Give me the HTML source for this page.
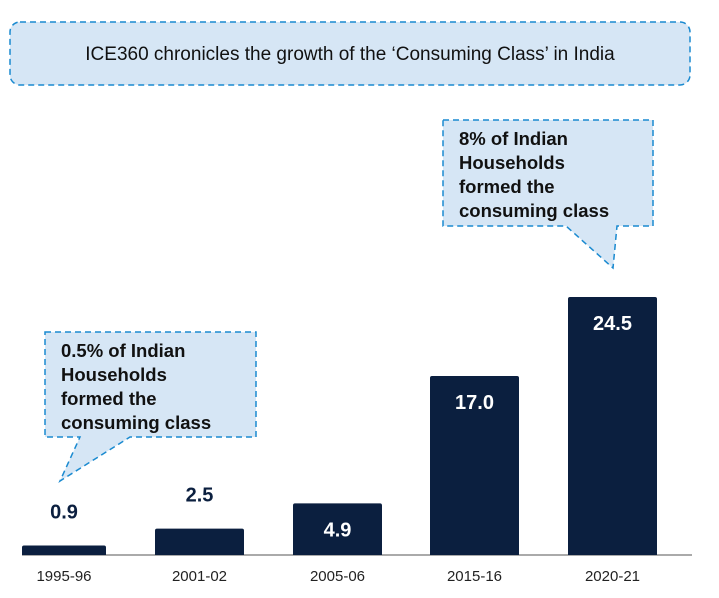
<!DOCTYPE html>
<html><head><meta charset="utf-8"><style>
body{margin:0;background:#fff;font-family:"Liberation Sans",Arial,sans-serif}
#c{position:relative;width:719px;height:598px;overflow:hidden}
</style></head><body>
<div id="c">
<svg width="719" height="598" xmlns="http://www.w3.org/2000/svg" id="svg">
<rect x="10" y="22" width="680" height="63" rx="10" fill="#d6e6f5" stroke="#1a8ad0" stroke-width="1.5" stroke-dasharray="6,4"/>
<text x="350" y="60" text-anchor="middle" font-size="19" fill="#111">ICE360 chronicles the growth of the ‘Consuming Class’ in India</text>
<g>
<path d="M45,332 H256 V437 H130 L60,481 L80,437 H45 Z" fill="#d6e6f5" stroke="#1a8ad0" stroke-width="1.5" stroke-dasharray="6,4"/>
<text x="61" y="357" font-size="18.5" font-weight="bold" fill="#111"><tspan x="61">0.5% of Indian</tspan><tspan x="61" dy="24">Households</tspan><tspan x="61" dy="24">formed the</tspan><tspan x="61" dy="24">consuming class</tspan></text>
</g>
<g>
<path d="M443,120 H653 V226 H617 L613,268 L566,226 H443 Z" fill="#d6e6f5" stroke="#1a8ad0" stroke-width="1.5" stroke-dasharray="6,4"/>
<text x="459" y="145" font-size="18.5" font-weight="bold" fill="#111"><tspan x="459">8% of Indian</tspan><tspan x="459" dy="24">Households</tspan><tspan x="459" dy="24">formed the</tspan><tspan x="459" dy="24">consuming class</tspan></text>
</g>
<line x1="22" y1="555" x2="692" y2="555" stroke="#555" stroke-width="1"/>
<g id="bars"></g>
</svg>
</div>
<script>
const categories=["1995-96","2001-02","2005-06","2015-16","2020-21"];
const values=[0.9,2.5,4.9,17.0,24.5];
const valueLabels=["0.9","2.5","4.9","17.0","24.5"];
const NS="http://www.w3.org/2000/svg";
const base=555, scale=258/24.5;
const lefts=[22,155,293,430,568], widths=[84,89,89,89,89];
function y(v){return base-v*scale;}
const g=document.getElementById('bars');
categories.forEach((c,i)=>{
  const x=lefts[i], w=widths[i], top=y(values[i]);
  const r=document.createElementNS(NS,'path');
  
  
  const h=base-top, rr=Math.min(2,h);
  r.setAttribute('d',`M${x},${base} V${top+rr} Q${x},${top} ${x+rr},${top} H${x+w-rr} Q${x+w},${top} ${x+w},${top+rr} V${base} Z`);
  r.setAttribute('fill','#0b1f3f');
  g.appendChild(r);
  const t=document.createElementNS(NS,'text');
  
  
  const inside=h>40;
  t.setAttribute('x',x+w/2);
  t.setAttribute('y',inside?top+33:top-27);
  t.setAttribute('text-anchor','middle');
  t.setAttribute('font-size','20');
  t.setAttribute('font-weight','bold');
  t.setAttribute('fill',inside?'#fff':'#0b1f3f');
  t.textContent=valueLabels[i];
  g.appendChild(t);
  const l=document.createElementNS(NS,'text');
  
  
  l.setAttribute('x',x+w/2);
  l.setAttribute('y',581);
  l.setAttribute('text-anchor','middle');
  l.setAttribute('font-size','15');
  l.setAttribute('fill','#222');
  l.textContent=c;
  g.appendChild(l);
});
</script>
</body></html>
